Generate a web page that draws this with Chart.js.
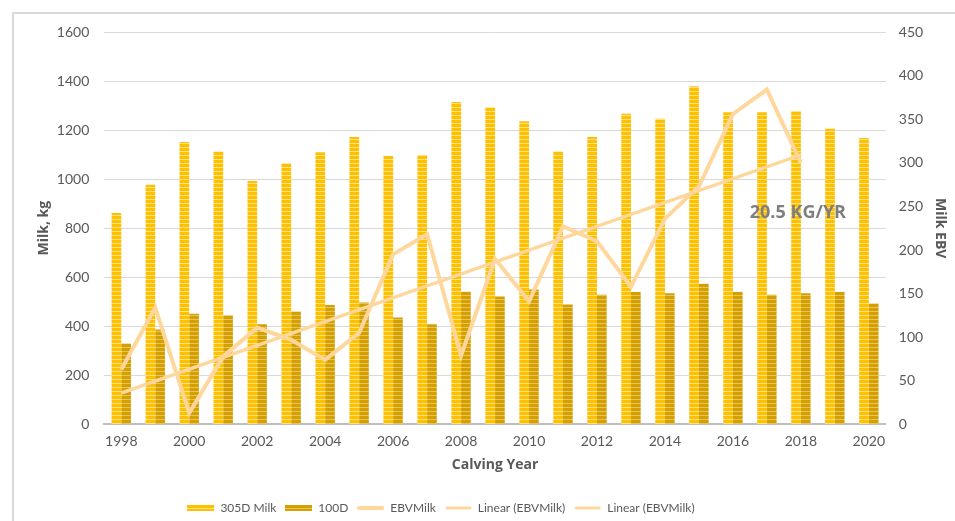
<!DOCTYPE html>
<html>
<head>
<meta charset="utf-8">
<script src="https://cdn.jsdelivr.net/npm/chart.js@4.4.1/dist/chart.umd.min.js"></script>
<style>
    body { margin: 0; background: #fff; }
    #wrap { position: relative; width: 955px; height: 521px; }
    #frame {
        position: absolute; left: 12px; top: 12px; right: 0; bottom: 0;
        border-left: 2px solid #d9d9d9; border-top: 2px solid #d9d9d9;
        pointer-events: none;
    }
</style>
</head>
<body>
<div id="wrap">
    <canvas id="milkChart" width="955" height="521"></canvas>
    <div id="frame"></div>
</div>
<script>
// Chart data
const years = ['1998', '1999', '2000', '2001', '2002', '2003', '2004', '2005', '2006', '2007', '2008',
    '2009', '2010', '2011', '2012', '2013', '2014', '2015', '2016', '2017', '2018', '2019', '2020'];
const milk305 = [862, 977, 1151, 1113, 992, 1065, 1110, 1172, 1094, 1098, 1315,
    1293, 1236, 1113, 1172, 1267, 1246, 1379, 1273, 1273, 1278, 1205, 1168];
const milk100 = [330, 387, 451, 445, 408, 460, 487, 497, 436, 408, 541,
    521, 550, 489, 529, 540, 535, 573, 540, 529, 535, 540, 493];
const ebvMilk = [63, 134, 13, 78, 111, 97, 74, 105, 195, 218, 79,
    190, 141, 227, 210, 158, 236, 273, 356, 384, 300, null, null];
// Linear trend of EBVMilk, end points only (1998 and 2018)
const ebvTrend = [36, null, null, null, null, null, null, null, null, null, null,
    null, null, null, null, null, null, null, null, null, 309, null, null];
const leftTicks = [0, 200, 400, 600, 800, 1000, 1200, 1400, 1600];
const rightTicks = [0, 50, 100, 150, 200, 250, 300, 350, 400, 450];
const trendLabel = '20.5 KG/YR';
const trendLabelAt = { year: '2018', ebv: 243 };

const FONT = 'Lato';
const TITLE_FONT = 'Open Sans';
const TEXT = '#595959';
const LINE_COLOR = '#ffd79c';
const LEGEND_SHIFT = -50;

// Striped fill like the original bars
function stripes(base, stripe) {
    const c = document.createElement('canvas');
    c.width = 4; c.height = 4;
    const g = c.getContext('2d');
    g.fillStyle = base;
    g.fillRect(0, 0, 4, 4);
    g.fillStyle = stripe;
    g.fillRect(0, 3, 4, 1);
    return g.createPattern(c, 'repeat');
}

function legendPatch(kind, color, stripeColor) {
    const c = document.createElement('canvas');
    c.width = 27; c.height = 8;
    const g = c.getContext('2d');
    if (kind === 'bar') {
        g.fillStyle = color;
        g.fillRect(0, 1, 27, 6);
        g.fillStyle = stripeColor;
        g.fillRect(0, 4, 27, 1);
    } else {
        g.strokeStyle = color;
        g.lineWidth = kind === 'thick' ? 4 : 3;
        g.lineCap = 'round';
        g.beginPath();
        g.moveTo(2, 4);
        g.lineTo(25, 4);
        g.stroke();
    }
    return c;
}

const ctx = document.getElementById('milkChart').getContext('2d');
const fill305 = stripes('#ffc000', '#ffe28a');
const fill100 = stripes('#d4a000', '#e6c260');

const trendText = {
    id: 'trendText',
    afterDatasetsDraw(chart) {
        const { ctx, scales } = chart;
        const x = scales.x.getPixelForValue(years.indexOf(trendLabelAt.year));
        const y = scales.y1.getPixelForValue(trendLabelAt.ebv);
        ctx.save();
        ctx.font = 'bold 18px "Open Sans"';
        ctx.fillStyle = '#7f7f7f';
        ctx.textAlign = 'center';
        ctx.textBaseline = 'middle';
        ctx.fillText(trendLabel, x - 3, y);
        ctx.restore();
    }
};

// legend in the original sits left of centre
const legendShift = {
    id: 'legendShift',
    afterLayout(chart) {
        chart.legend.left += LEGEND_SHIFT;
        chart.legend.right += LEGEND_SHIFT;
    }
};

const tickFont = { family: FONT, size: 14 };
const titleFont = { family: TITLE_FONT, size: 14, weight: 'bold' };

new Chart(ctx, {
    type: 'bar',
    data: {
        labels: years,
        datasets: [
            {
                label: '305D Milk',
                data: milk305,
                backgroundColor: fill305,
                yAxisID: 'y',
                order: 2,
                pointStyle: legendPatch('bar', '#ffc000', '#ffe28a')
            },
            {
                label: '100D',
                data: milk100,
                backgroundColor: fill100,
                yAxisID: 'y',
                order: 2,
                pointStyle: legendPatch('bar', '#d4a000', '#e6c260')
            },
            {
                type: 'line',
                label: 'EBVMilk',
                data: ebvMilk,
                borderColor: LINE_COLOR,
                borderWidth: 4,
                pointRadius: 0,
                tension: 0,
                yAxisID: 'y1',
                order: 0,
                pointStyle: legendPatch('thick', LINE_COLOR)
            },
            {
                type: 'line',
                label: 'Linear (EBVMilk)',
                data: ebvTrend,
                borderColor: LINE_COLOR,
                borderWidth: 3,
                pointRadius: 0,
                spanGaps: true,
                yAxisID: 'y1',
                order: 1,
                pointStyle: legendPatch('thin', LINE_COLOR)
            },
            {
                type: 'line',
                label: 'Linear (EBVMilk)',
                data: ebvTrend,
                borderColor: LINE_COLOR,
                borderWidth: 3,
                pointRadius: 0,
                spanGaps: true,
                yAxisID: 'y1',
                order: 1,
                pointStyle: legendPatch('thin', LINE_COLOR)
            }
        ]
    },
    options: {
        responsive: false,
        animation: false,
        categoryPercentage: 0.57,
        barPercentage: 1,
        layout: { padding: { left: 32, right: 5, top: 32, bottom: -3 } },
        plugins: {
            tooltip: { enabled: false },
            legend: {
                position: 'bottom',
                labels: {
                    usePointStyle: true,
                    pointStyleWidth: 27,
                    padding: 9,
                    color: TEXT,
                    font: { family: FONT, size: 12 },
                    sort: (a, b) => a.datasetIndex - b.datasetIndex
                }
            }
        },
        scales: {
            x: {
                grid: { display: false },
                border: { color: '#bfbfbf', width: 2 },
                ticks: {
                    color: TEXT, font: tickFont,
                    maxRotation: 0, autoSkip: false, padding: 1,
                    callback: (v, i) => (i % 2 === 0 ? years[i] : '')
                },
                title: {
                    display: true, text: 'Calving Year', color: TEXT,
                    font: titleFont,
                    padding: { top: 5, bottom: 20 }
                }
            },
            y: {
                position: 'left',
                min: 0, max: 1600,
                afterBuildTicks: axis => { axis.ticks = leftTicks.map(v => ({ value: v })); },
                grid: { color: '#d9d9d9', lineWidth: 1, drawTicks: false },
                border: { display: false },
                ticks: { color: TEXT, font: tickFont, padding: 15, callback: v => String(v) },
                title: {
                    display: true, text: 'Milk, kg', color: TEXT,
                    font: titleFont,
                    padding: { top: 4, bottom: -11 }
                }
            },
            y1: {
                position: 'right',
                min: 0, max: 450,
                afterBuildTicks: axis => { axis.ticks = rightTicks.map(v => ({ value: v })); },
                grid: { display: false, drawTicks: false },
                border: { display: false },
                ticks: { color: TEXT, font: tickFont, padding: 13, callback: v => String(v) },
                title: {
                    display: true, text: 'Milk EBV', color: TEXT,
                    font: titleFont,
                    padding: { top: 2, bottom: -5 }
                }
            }
        }
    },
    plugins: [trendText, legendShift]
});
</script>
</body>
</html>
